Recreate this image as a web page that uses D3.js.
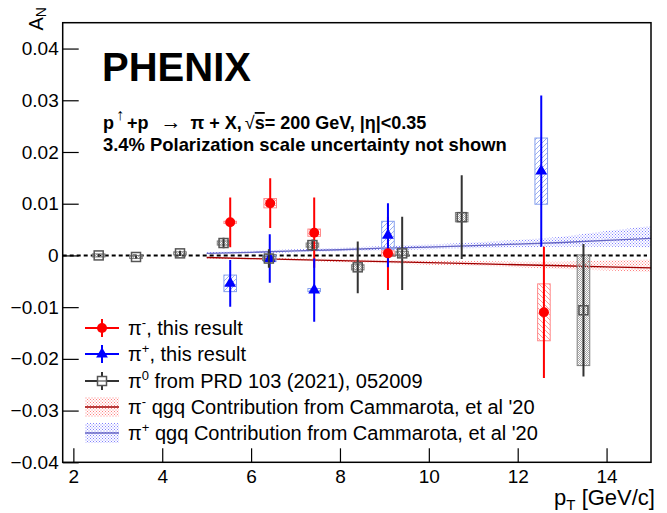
<!DOCTYPE html>
<html>
<head>
<meta charset="utf-8">
<script src="https://cdn.jsdelivr.net/npm/d3@7"></script>
<style>
   body { margin: 0; background: #fff; }
   svg { display: block; font-family: "Liberation Sans", Arial, Helvetica, sans-serif; }
</style>
</head>
<body>
<script>

var width = 667;
var height = 513;

// pi- (this result)
var pimPt   = [5.53, 6.43, 7.42, 9.08, 12.59];
var pimAN   = [0.0064, 0.0101, 0.0044, 0.0004, -0.0110];
var pimStat = [0.0048, 0.0048, 0.0068, 0.0071, 0.0127];
var pimSys  = [0.0002, 0.0009, 0.0007, 0.0005, 0.0055];

// pi+ (this result)
var pipPt   = [5.53, 6.42, 7.42, 9.08, 12.53];
var pipAN   = [-0.0054, -0.0006, -0.0067, 0.0039, 0.0163];
var pipStat = [0.0045, 0.0047, 0.0061, 0.0062, 0.0146];
var pipSys  = [0.0016, 0.0006, 0.0003, 0.0027, 0.0064];

// pi0 from PRD 103 (2021), 052009
var pi0Pt   = [2.57, 3.41, 4.40, 5.38, 6.40, 7.38, 8.40, 9.40, 10.74, 13.48];
var pi0AN   = [0.0000, -0.0003, 0.0004, 0.0024, -0.0006, 0.0020, -0.0023, 0.0004, 0.0074, -0.0106];
var pi0Stat = [0.0003, 0.0003, 0.0005, 0.0010, 0.0018, 0.0011, 0.0050, 0.0071, 0.0081, 0.0128];
var pi0Sys  = [0.0003, 0.0003, 0.0003, 0.0004, 0.0004, 0.0004, 0.0005, 0.0004, 0.0009, 0.0107];

// qgq contribution, Cammarota et al '20
var thPt     = [5, 6, 7, 8, 9, 10, 11, 12, 13, 14, 15];
var thPimMid = [-0.0004, -0.0006, -0.0008, -0.0010, -0.0012, -0.0014, -0.0016, -0.0018, -0.0020, -0.0022, -0.0024];
var thPimLo  = [-0.0006, -0.0008, -0.0010, -0.0013, -0.0015, -0.0018, -0.0020, -0.0023, -0.0026, -0.0029, -0.0032];
var thPimHi  = [-0.0002, -0.0004, -0.0006, -0.0007, -0.0009, -0.0010, -0.0011, -0.0012, -0.0012, -0.0010, -0.0008];
var thPipMid = [0.0004, 0.0006, 0.0009, 0.0011, 0.0014, 0.0016, 0.0019, 0.0022, 0.0025, 0.0029, 0.0033];
var thPipLo  = [0.0002, 0.0004, 0.0006, 0.0008, 0.0010, 0.0012, 0.0014, 0.0016, 0.0017, 0.0017, 0.0016];
var thPipHi  = [0.0006, 0.0009, 0.0012, 0.0015, 0.0018, 0.0021, 0.0025, 0.0030, 0.0036, 0.0047, 0.0057];

// axes
var xMajor = [2, 4, 6, 8, 10, 12, 14];
var xMinor = [2.5, 3, 3.5, 4.5, 5, 5.5, 6.5, 7, 7.5, 8.5, 9, 9.5, 10.5, 11, 11.5, 12.5, 13, 13.5, 14.5];
var yMajor = [-0.04, -0.03, -0.02, -0.01, 0, 0.01, 0.02, 0.03, 0.04];
var yMinor = [-0.038, -0.036, -0.034, -0.032, -0.028, -0.026, -0.024, -0.022,
   -0.018, -0.016, -0.014, -0.012, -0.008, -0.006, -0.004, -0.002,
   0.002, 0.004, 0.006, 0.008, 0.012, 0.014, 0.016, 0.018,
   0.022, 0.024, 0.026, 0.028, 0.032, 0.034, 0.036, 0.038, 0.042, 0.044];

var legendLabels = [
   ['π', '-', ', this result'],
   ['π', '+', ', this result'],
   ['π', '0', ' from PRD 103 (2021), 052009'],
   ['π', '-', " qgq Contribution from Cammarota, et al '20"],
   ['π', '+', " qgq Contribution from Cammarota, et al '20"]
];

var fLeft = 62.7, fRight = 651, fTop = 22.7, fBottom = 462.3;

var x = d3.scaleLinear().domain([1.76, 15]).range([fLeft, fRight]);
var y = d3.scaleLinear().domain([-0.04, 0.045]).range([fBottom, fTop]);

var svg = d3.select('body').append('svg')
   .attr('width', width)
   .attr('height', height)
;

var defs = svg.append('defs');

function hatch(id, color, d) {
   defs.append('pattern')
      .attr('id', id)
      .attr('patternUnits', 'userSpaceOnUse')
      .attr('width', 5)
      .attr('height', 5)
      .append('path')
      .attr('d', d)
      .attr('stroke', color)
      .attr('stroke-width', 0.8)
      .attr('fill', 'none')
   ;
}
hatch('hatchRed', '#ff8080', 'M-1,-1L6,6M-1,4L1,6M4,-1L6,1');
hatch('hatchBlue', '#7f9bef', 'M-1,6L6,-1M-1,1L1,-1M4,6L6,4');

function dots(id, color, size) {
   var p = defs.append('pattern')
      .attr('id', id)
      .attr('patternUnits', 'userSpaceOnUse')
      .attr('width', size)
      .attr('height', size)
   ;
   p.append('rect').attr('width', 1).attr('height', 1).attr('fill', color);
   p.append('rect').attr('x', size / 2).attr('y', size / 2).attr('width', 1).attr('height', 1).attr('fill', color);
}
dots('dotsRed', '#ff8080', 3);
dots('dotsBlue', '#8080ff', 3);
dots('dotsGrey', '#a8a8a8', 2);

defs.append('clipPath').attr('id', 'frameClip')
   .append('rect')
   .attr('x', fLeft).attr('y', fTop)
   .attr('width', fRight - fLeft).attr('height', fBottom - fTop)
;

var plot = svg.append('g').attr('clip-path', 'url(#frameClip)');

// theory bands
function band(pt, lo, hi, mid, fill, line) {
   var rows = pt.map(function(p, i) { return { x: p, lo: lo[i], hi: hi[i], mid: mid[i] }; });
   plot.append('path')
      .datum(rows)
      .attr('d', d3.area()
         .x(function(d) { return x(d.x); })
         .y0(function(d) { return y(d.lo); })
         .y1(function(d) { return y(d.hi); }))
      .attr('fill', fill)
   ;
   plot.append('path')
      .datum(rows)
      .attr('d', d3.line()
         .x(function(d) { return x(d.x); })
         .y(function(d) { return y(d.mid); }))
      .attr('fill', 'none')
      .attr('stroke', line)
      .attr('stroke-width', 1.3)
   ;
}
band(thPt, thPipLo, thPipHi, thPipMid, 'url(#dotsBlue)', '#6666c4');
band(thPt, thPimLo, thPimHi, thPimMid, 'url(#dotsRed)', '#a00000');

// zero line
plot.append('line')
   .attr('x1', fLeft).attr('x2', fRight - 4)
   .attr('y1', y(0)).attr('y2', y(0))
   .attr('stroke', '#000')
   .attr('stroke-width', 2)
   .attr('stroke-dasharray', '4,3')
;

function rows(pt, an, stat, sys) {
   return pt.map(function(p, i) { return { x: p, y: an[i], stat: stat[i], sys: sys[i] }; });
}

var pim = rows(pimPt, pimAN, pimStat, pimSys);
var pip = rows(pipPt, pipAN, pipStat, pipSys);
var pi0 = rows(pi0Pt, pi0AN, pi0Stat, pi0Sys);

var boxHalf = 6.3;

function boxes(data, fill, stroke) {
   plot.append('g').selectAll('rect')
      .data(data)
      .enter()
      .append('rect')
      .attr('x', function(d) { return x(d.x) - boxHalf; })
      .attr('y', function(d) { return y(d.y + d.sys); })
      .attr('width', boxHalf * 2)
      .attr('height', function(d) { return Math.max(1, y(d.y - d.sys) - y(d.y + d.sys)); })
      .attr('fill', fill)
      .attr('stroke', stroke)
      .attr('stroke-width', 1)
   ;
}

function bars(data, color, w) {
   plot.append('g').selectAll('line')
      .data(data)
      .enter()
      .append('line')
      .attr('x1', function(d) { return x(d.x); })
      .attr('x2', function(d) { return x(d.x); })
      .attr('y1', function(d) { return y(d.y + d.stat); })
      .attr('y2', function(d) { return y(d.y - d.stat); })
      .attr('stroke', color)
      .attr('stroke-width', w)
   ;
}

boxes(pim, 'url(#hatchRed)', '#ff8a8a');
boxes(pip, 'url(#hatchBlue)', '#86a0ee');
boxes(pi0, 'url(#dotsGrey)', '#808080');

bars(pim, '#ff0000', 2);
bars(pip, '#0000ff', 2);

plot.append('g').selectAll('circle')
   .data(pim)
   .enter()
   .append('circle')
   .attr('cx', function(d) { return x(d.x); })
   .attr('cy', function(d) { return y(d.y); })
   .attr('r', 5)
   .attr('fill', '#ff0000')
;

var tri = d3.symbol().type(d3.symbolTriangle).size(60);

plot.append('g').selectAll('path')
   .data(pip)
   .enter()
   .append('path')
   .attr('d', tri)
   .attr('transform', function(d) { return 'translate(' + x(d.x) + ',' + y(d.y) + ')'; })
   .attr('fill', '#0000ff')
;

bars(pi0, '#333', 2);

plot.append('g').selectAll('rect')
   .data(pi0)
   .enter()
   .append('rect')
   .attr('x', function(d) { return x(d.x) - 4.5; })
   .attr('y', function(d) { return y(d.y) - 4.5; })
   .attr('width', 9)
   .attr('height', 9)
   .attr('fill', 'none')
   .attr('stroke', '#555')
   .attr('stroke-width', 1.5)
;

// frame
svg.append('rect')
   .attr('x', fLeft).attr('y', fTop)
   .attr('width', fRight - fLeft).attr('height', fBottom - fTop)
   .attr('fill', 'none')
   .attr('stroke', '#000')
   .attr('stroke-width', 1.5)
;

var fmtY = d3.format('.2~f');

var gx = svg.append('g').attr('transform', 'translate(0,' + fBottom + ')');
gx.call(d3.axisBottom(x).tickValues(xMinor).tickSizeInner(-7).tickSizeOuter(0).tickFormat(''));
gx.call(d3.axisBottom(x).tickValues(xMajor).tickSizeInner(-14).tickSizeOuter(0).tickPadding(7).tickFormat(d3.format('d')));

var gy = svg.append('g').attr('transform', 'translate(' + fLeft + ',0)');
gy.call(d3.axisLeft(y).tickValues(yMinor).tickSizeInner(-8).tickSizeOuter(0).tickFormat(''));
gy.call(d3.axisLeft(y).tickValues(yMajor).tickSizeInner(-16).tickSizeOuter(0).tickPadding(4).tickFormat(function(d) { return d == 0 ? '0' : fmtY(d); }));

svg.selectAll('.domain').remove();
svg.selectAll('.tick line').attr('stroke', '#000').attr('stroke-width', 1.2);
svg.selectAll('.tick text')
   .attr('font-family', '"Liberation Sans", Arial, sans-serif')
   .attr('font-size', 19)
   .attr('fill', '#000')
;

// axis titles
var yTitle = svg.append('text')
   .attr('transform', 'translate(43,7) rotate(-90)')
   .attr('text-anchor', 'end')
   .attr('font-size', 20)
;
yTitle.append('tspan').text('A');
yTitle.append('tspan').attr('font-size', 14).attr('dy', 3).text('N');

var xTitle = svg.append('text')
   .attr('x', 655)
   .attr('y', 505)
   .attr('text-anchor', 'end')
   .attr('font-size', 22)
;
xTitle.append('tspan').text('p');
xTitle.append('tspan').attr('font-size', 15).attr('dy', 5).text('T');
xTitle.append('tspan').attr('dy', -5).text(' [GeV/c]');

// labels
svg.append('text')
   .attr('x', 102)
   .attr('y', 81)
   .attr('font-size', 40)
   .attr('font-weight', 'bold')
   .text('PHENIX')
;

var l1 = svg.append('text')
   .attr('x', 103)
   .attr('y', 129)
   .attr('font-size', 18)
   .attr('font-weight', 'bold')
;
l1.append('tspan').text('p');
l1.append('tspan').attr('font-size', 16).attr('font-weight', 'normal').attr('dx', 2).attr('dy', -9).text('↑');
l1.append('tspan').attr('dx', 3).attr('dy', 9).text('+p');
l1.append('tspan').attr('font-size', 21).attr('font-weight', 'normal').attr('dx', 12).text('→');
l1.append('tspan').attr('dx', 9).text('π + X,');
l1.append('tspan').attr('font-weight', 'normal').attr('dx', 3).text('√');
l1.append('tspan').style('text-decoration', 'overline').text('s');
l1.append('tspan').text('= 200 GeV, |η|<0.35');

svg.append('text')
   .attr('x', 103)
   .attr('y', 151)
   .attr('font-size', 18.4)
   .attr('font-weight', 'bold')
   .text('3.4% Polarization scale uncertainty not shown')
;

// legend
var legY = [328, 354, 381, 407, 433];
var leg = svg.append('g');

function legText(i) {
   var t = leg.append('text')
      .attr('x', 128)
      .attr('y', legY[i])
      .attr('dy', '0.36em')
      .attr('font-size', 20)
   ;
   t.append('tspan').text(legendLabels[i][0]);
   t.append('tspan').attr('font-size', 13).attr('dy', -8).text(legendLabels[i][1]);
   t.append('tspan').attr('dy', 8).text(legendLabels[i][2]);
}

function legLine(i, color, w) {
   leg.append('line')
      .attr('x1', 85).attr('x2', 119)
      .attr('y1', legY[i]).attr('y2', legY[i])
      .attr('stroke', color)
      .attr('stroke-width', w)
   ;
}

legLine(0, '#ff0000', 2);
leg.append('line').attr('x1', 102).attr('x2', 102).attr('y1', legY[0] - 9).attr('y2', legY[0] + 9).attr('stroke', '#ff0000').attr('stroke-width', 2);
leg.append('circle').attr('cx', 102).attr('cy', legY[0]).attr('r', 5).attr('fill', '#ff0000');

legLine(1, '#0000ff', 2);
leg.append('line').attr('x1', 102).attr('x2', 102).attr('y1', legY[1] - 9).attr('y2', legY[1] + 9).attr('stroke', '#0000ff').attr('stroke-width', 2);
leg.append('path').attr('d', tri).attr('transform', 'translate(102,' + legY[1] + ')').attr('fill', '#0000ff');

legLine(2, '#333', 2);
leg.append('line').attr('x1', 102).attr('x2', 102).attr('y1', legY[2] - 9).attr('y2', legY[2] + 9).attr('stroke', '#333').attr('stroke-width', 2);
leg.append('rect').attr('x', 97.5).attr('y', legY[2] - 4.5).attr('width', 9).attr('height', 9).attr('fill', '#fff').attr('stroke', '#555').attr('stroke-width', 1.5);
leg.append('line').attr('x1', 97.5).attr('x2', 106.5).attr('y1', legY[2]).attr('y2', legY[2]).attr('stroke', '#555').attr('stroke-width', 1.2);

leg.append('rect').attr('x', 85).attr('y', legY[3] - 10).attr('width', 34).attr('height', 20).attr('fill', 'url(#dotsRed)');
legLine(3, '#a00000', 1.3);
leg.append('rect').attr('x', 85).attr('y', legY[4] - 10).attr('width', 34).attr('height', 20).attr('fill', 'url(#dotsBlue)');
legLine(4, '#6666c4', 1.3);

for (var i = 0; i < legendLabels.length; i++) legText(i);

</script>
</body>
</html>
